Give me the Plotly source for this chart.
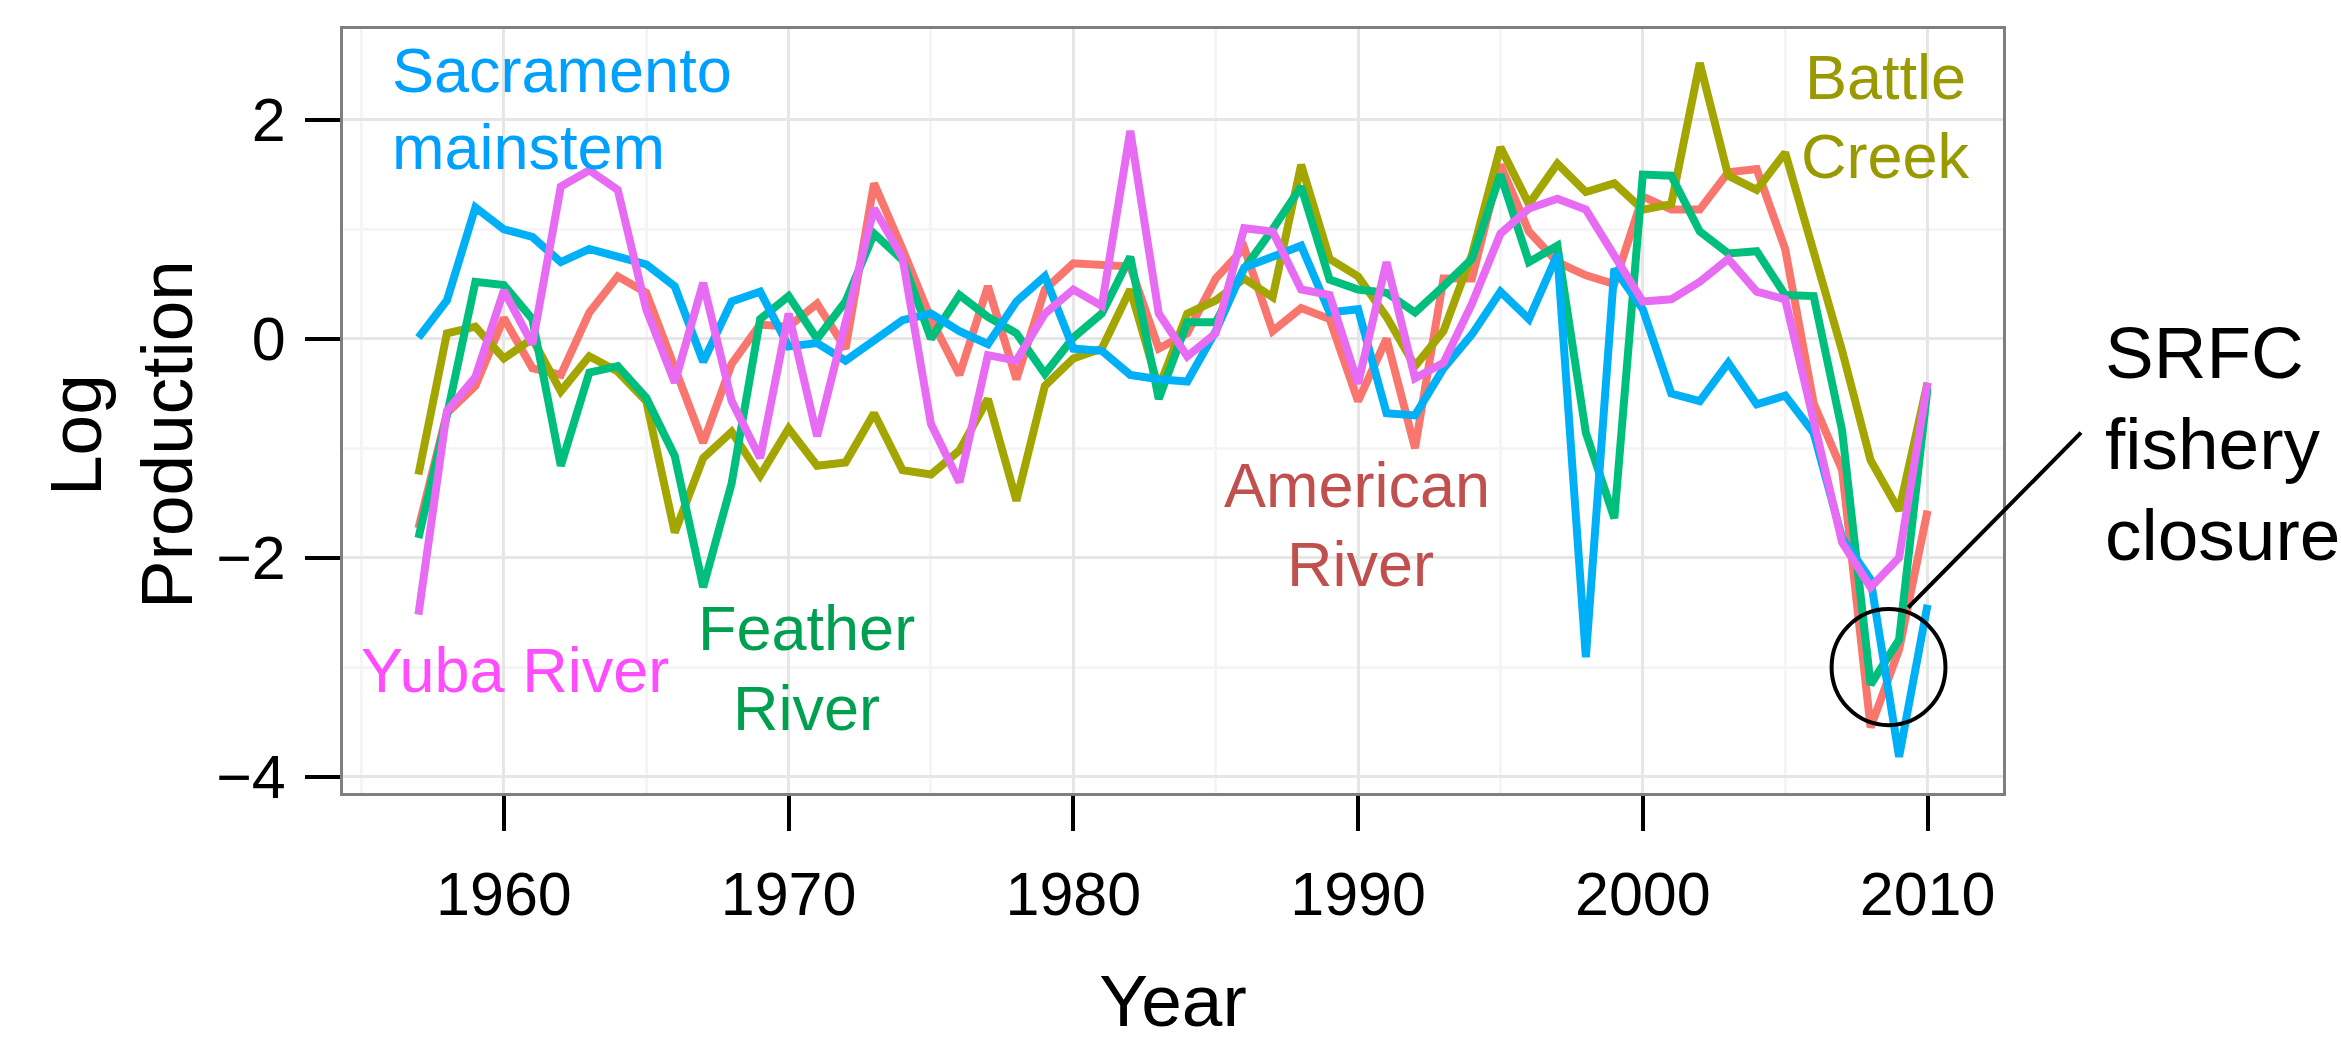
import plotly.graph_objects as go

years = list(range(1957, 2011))

american = [-1.73, -0.68, -0.43, 0.19, -0.27, -0.33, 0.24, 0.57, 0.42, -0.27,
            -0.95, -0.23, 0.13, 0.11, 0.32, -0.09, 1.42, 0.82, 0.18, -0.33,
            0.48, -0.37, 0.45, 0.69, 0.68, 0.66, -0.09, 0.05, 0.55, 0.83,
            0.07, 0.28, 0.18, -0.57, 0.00, -1.00, 0.55, 0.55, 1.59, 0.98,
            0.70, 0.58, 0.50, 1.30, 1.18, 1.18, 1.52, 1.55, 0.82, -0.59,
            -1.20, -3.55, -2.84, -1.57]

battle = [-1.24, 0.05, 0.11, -0.18, 0.00, -0.48, -0.16, -0.30, -0.57, -1.77,
          -1.09, -0.85, -1.25, -0.82, -1.16, -1.13, -0.68, -1.20, -1.24, -1.02,
          -0.55, -1.48, -0.43, -0.18, -0.09, 0.45, -0.45, 0.23, 0.35, 0.55,
          0.38, 1.59, 0.73, 0.57, 0.20, -0.25, 0.07, 0.77, 1.75, 1.23,
          1.60, 1.34, 1.42, 1.18, 1.23, 2.52, 1.49, 1.36, 1.70, 0.82,
          -0.11, -1.11, -1.57, -0.40]

feather = [-1.82, -0.70, 0.52, 0.49, 0.18, -1.16, -0.31, -0.25, -0.54, -1.07,
           -2.27, -1.32, 0.18, 0.39, 0.00, 0.34, 0.96, 0.72, 0.00, 0.40,
           0.20, 0.05, -0.32, 0.01, 0.23, 0.75, -0.55, 0.15, 0.15, 0.64,
           1.00, 1.39, 0.54, 0.45, 0.42, 0.24, 0.48, 0.73, 1.50, 0.70,
           0.85, -0.86, -1.64, 1.50, 1.49, 0.98, 0.78, 0.80, 0.40, 0.39,
           -0.84, -3.16, -2.75, -0.45]

sacramento = [0.01, 0.35, 1.20, 1.00, 0.93, 0.70, 0.82, 0.75, 0.68, 0.48,
              -0.21, 0.34, 0.43, -0.07, -0.04, -0.20, -0.02, 0.17, 0.23, 0.07,
              -0.05, 0.34, 0.57, -0.09, -0.11, -0.33, -0.37, -0.39, 0.07, 0.65,
              0.75, 0.85, 0.24, 0.27, -0.68, -0.70, -0.27, 0.04, 0.43, 0.18,
              0.77, -2.91, 0.64, 0.27, -0.50, -0.57, -0.22, -0.60, -0.52, -0.86,
              -1.82, -2.20, -3.82, -2.43]

yuba = [-2.52, -0.66, -0.35, 0.44, -0.05, 1.39, 1.54, 1.36, 0.27, -0.40,
        0.51, -0.57, -1.09, 0.23, -0.89, 0.14, 1.19, 0.74, -0.78, -1.31,
        -0.15, -0.20, 0.23, 0.45, 0.30, 1.90, 0.23, -0.16, 0.05, 1.01,
        0.98, 0.45, 0.40, -0.41, 0.70, -0.36, -0.22, 0.32, 0.96, 1.19,
        1.28, 1.18, 0.75, 0.34, 0.36, 0.52, 0.73, 0.43, 0.36, -0.73,
        -1.86, -2.27, -2.00, -0.40]

series_names = ["American River", "Battle Creek", "Feather River",
                "Sacramento mainstem", "Yuba River"]
series_values = [american, battle, feather, sacramento, yuba]
line_colors = ["#F8766D", "#A3A500", "#00BF7D", "#00B0F6", "#E76BF3"]

x_ticks = [1960, 1970, 1980, 1990, 2000, 2010]
y_ticks = [-4, -2, 0, 2]

FONT = "Liberation Sans, Arial, Helvetica, sans-serif"

fig = go.Figure()
for name, vals, col in zip(series_names, series_values, line_colors):
    fig.add_trace(go.Scatter(x=years, y=vals, mode="lines", name=name,
                             line=dict(color=col, width=8),
                             showlegend=False))

# in-plot series labels: (text, x, y, xanchor, color)
labels = [
    ("Sacramento", 1956.0, 2.46, "left", "#00A0FF"),
    ("mainstem", 1956.0, 1.75, "left", "#00A0FF"),
    ("Yuba River", 1960.40, -3.03, "center", "#FF4CFF"),
    ("Feather", 1970.63, -2.64, "center", "#00A050"),
    ("River", 1970.63, -3.37, "center", "#00A050"),
    ("American", 1989.96, -1.34, "center", "#C0504D"),
    ("River", 1990.07, -2.06, "center", "#C0504D"),
    ("Battle", 2008.53, 2.39, "center", "#999900"),
    ("Creek", 2008.53, 1.67, "center", "#999900"),
]
for txt, lx, ly, xa, col in labels:
    fig.add_annotation(x=lx, y=ly, xref="x", yref="y", text=txt,
                       showarrow=False, xanchor=xa, yanchor="middle",
                       font=dict(family=FONT, size=63, color=col))

# SRFC note (outside panel, paper coords)
note_lines = [("SRFC", 0.576), ("fishery", 0.458), ("closure", 0.339)]
for txt, ny in note_lines:
    fig.add_annotation(x=1.060, y=ny, xref="paper", yref="paper", text=txt,
                       showarrow=False, xanchor="left", yanchor="middle",
                       font=dict(family=FONT, size=73, color="black"))

# y axis title, two rotated lines
ytitle_lines = [("Log", -0.1608), ("Production", -0.106)]
for txt, tx in ytitle_lines:
    fig.add_annotation(x=tx, y=0.4686, xref="paper", yref="paper", text=txt,
                       showarrow=False, textangle=-90,
                       xanchor="center", yanchor="middle",
                       font=dict(family=FONT, size=73, color="black"))

# circle around the closure years
fig.add_shape(type="circle", xref="x", yref="y",
              x0=2006.63, x1=2010.63, y0=-3.53, y1=-2.47,
              line=dict(color="black", width=4))
# leader line
fig.add_shape(type="line", xref="paper", yref="paper",
              x0=0.9429, y0=0.2428, x1=1.047, y1=0.4716,
              line=dict(color="black", width=4))

axis_common = dict(
    showline=True, mirror=True, linecolor="#7F7F7F", linewidth=3,
    ticks="outside", ticklen=35, tickwidth=4, tickcolor="black",
    showgrid=True, gridcolor="#E6E6E6", gridwidth=3,
    zeroline=False,
    tickfont=dict(family=FONT, size=61, color="black"),
)

fig.update_xaxes(range=[1954.35, 2012.65], tickvals=x_ticks,
                 minor=dict(dtick=5, tick0=1955, showgrid=True,
                            gridcolor="#F5F5F5", gridwidth=3, ticks=""),
                 title=dict(text="Year", standoff=48,
                            font=dict(family=FONT, size=73, color="black")),
                 ticklabelstandoff=11,
                 **axis_common)
fig.update_yaxes(range=[-4.15, 2.83], tickvals=y_ticks,
                 minor=dict(dtick=1, tick0=-5, showgrid=True,
                            gridcolor="#F5F5F5", gridwidth=3, ticks=""),
                 ticklabelstandoff=7,
                 **axis_common)

fig.update_layout(
    width=2341, height=1046,
    margin=dict(l=343, r=338, t=29, b=253),
    plot_bgcolor="white", paper_bgcolor="white",
    font=dict(family=FONT),
)

fig.write_html("out.html",
               config={"displayModeBar": False, "staticPlot": True},
               post_script="document.body.style.margin='0px';"
                           "document.body.style.overflow='hidden';")
